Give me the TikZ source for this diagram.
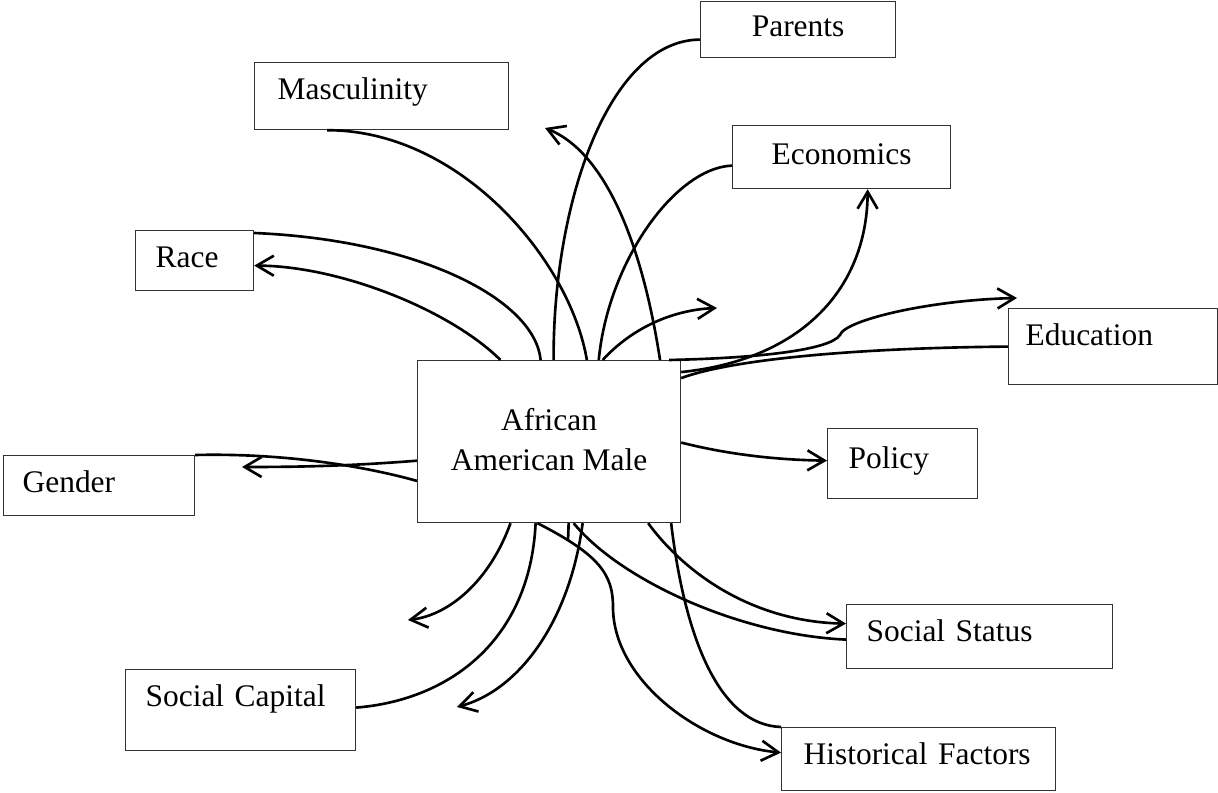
\documentclass[tikz,border=0pt]{standalone}
\usepackage{fontspec}
\setmainfont{Liberation Serif}
\usetikzlibrary{arrows.meta,calc}

\begin{document}
\begin{tikzpicture}[x=0.02cm, y=-0.02cm, every node/.style={font=\fontsize{17.9}{22.8}\selectfont},
     box/.style={draw=black!80, line width=0.7pt, anchor=north west, inner ysep=0pt, align=left, text height=0.42cm, text depth=0.14cm},
     link/.style={line width=1.5pt},
     arrowlink/.style={link, -{Straight Barb[length=3.4mm,width=4mm]}}]

   \useasboundingbox (0,0) rectangle (1218,793);

   \node[box, minimum width=3.9cm, minimum height=1.12cm] (parents) at (700,1) {Parents};
   \node[box, text width=4.16cm, inner xsep=0.46cm, minimum height=1.34cm, text depth=0.3cm] (masc) at (254,62) {Masculinity};
   \node[box, minimum width=4.36cm, minimum height=1.26cm] (econ) at (732,125) {Economics};
   \node[box, text width=1.56cm, inner xsep=0.4cm, minimum height=1.2cm] (race) at (135,230) {Race};
   \node[box, text width=3.5cm, inner xsep=0.34cm, minimum height=1.52cm, text depth=0.46cm] (educ) at (1008,308) {Education};
   \node[draw=black!80, line width=0.7pt, anchor=north west, align=center, minimum width=5.26cm, minimum height=3.24cm, text depth=0.1cm] (aam) at (417,360) {African\\American Male};
   \node[box, text width=2.16cm, inner xsep=0.42cm, minimum height=1.4cm, text depth=0.22cm] (policy) at (827,428) {Policy};
   \node[box, text width=3.06cm, inner xsep=0.38cm, minimum height=1.2cm] (gender) at (3,455) {Gender};
   \node[box, text width=4.52cm, inner xsep=0.4cm, minimum height=1.28cm, text depth=0.22cm] (status) at (846,604) {Social Status};
   \node[box, text width=3.8cm, inner xsep=0.4cm, minimum height=1.62cm, text depth=0.58cm] (capital) at (125,669) {Social Capital};
   \node[box, text width=4.6cm, inner xsep=0.44cm, minimum height=1.26cm, text depth=0.22cm] (hist) at (781,727) {Historical Factors};

   \coordinate (upleft) at (545,128);
   \coordinate (upright) at (717,308);
   \coordinate (toright) at (1017,298);
   \coordinate (toleft) at (242,467);
   \coordinate (downleft) at (408,620);
   \coordinate (lowleft) at (457,707);
   \coordinate (stub) at (568,541);

   \draw[arrowlink] ($(aam.north west)!0.316!(aam.north east)$) .. controls (450,310) and (340,266) .. ([yshift=-0.1cm]race.east);
   \draw[link] ([yshift=-0.06cm]race.north east) .. controls (420,240) and (535,300) .. ($(aam.north west)!0.468!(aam.north east)$);
   \draw[link] ($(masc.south west)!0.287!(masc.south east)$) .. controls (460,130) and (570,260) .. ($(aam.north west)!0.643!(aam.north east)$);
   \draw[link] ([yshift=-0.2cm]parents.west) .. controls (610,40) and (553,200) .. ($(aam.north west)!0.517!(aam.north east)$);
   \draw[arrowlink] ($(aam.north west)!0.92!(aam.north east)$) .. controls (640,230) and (600,150) .. (upleft);
   \draw[link] ([yshift=-0.17cm]econ.west) .. controls (675,168) and (608,262) .. ($(aam.north west)!0.688!(aam.north east)$);
   \draw[arrowlink] ($(aam.north west)!0.703!(aam.north east)$) .. controls (630,330) and (670,310) .. (upright);
   \draw[arrowlink] ($(aam.north east)!0.074!(aam.south east)$) .. controls (800,360) and (867,290) .. ($(econ.south west)!0.619!(econ.south east)$);
   \draw[arrowlink] ($(aam.north west)!0.954!(aam.north east)$) .. controls (760,358) and (830,350) .. (840,335) .. controls (845,320) and (930,300) .. (toright);
   \draw[link] (educ.west) .. controls (850,348) and (730,360) .. ($(aam.north east)!0.111!(aam.south east)$);
   \draw[arrowlink] ($(aam.north east)!0.506!(aam.south east)$) .. controls (730,455) and (780,460) .. ([yshift=0.06cm]policy.west);
   \draw[arrowlink] ($(aam.north west)!0.617!(aam.south west)$) .. controls (350,466) and (300,467) .. (toleft);
   \draw[link] (gender.north east) .. controls (280,453) and (360,465) .. ($(aam.north west)!0.741!(aam.south west)$);

   \draw[arrowlink] ($(aam.south west)!0.354!(aam.south east)$) .. controls (490,580) and (450,615) .. (downleft);
   \draw[link] ($(aam.south west)!0.449!(aam.south east)$) .. controls (530,640) and (450,700) .. ([yshift=0.05cm]capital.east);
   \draw[arrowlink] ($(aam.south west)!0.456!(aam.south east)$) .. controls (600,555) and (613,575) .. (613,607) .. controls (613,680) and (700,745) .. ([yshift=0.13cm]hist.west);
   \draw[link] ($(aam.south west)!0.574!(aam.south east)$) -- (stub);
   \draw[arrowlink] ($(aam.south west)!0.627!(aam.south east)$) .. controls (570,620) and (520,690) .. (lowleft);
   \draw[link] ([yshift=-0.06cm]status.west) .. controls (740,635) and (620,580) .. ($(aam.south west)!0.593!(aam.south east)$);
   \draw[arrowlink] ($(aam.south west)!0.875!(aam.south east)$) .. controls (690,580) and (760,622) .. ([yshift=0.26cm]status.west);
   \draw[link] ($(aam.south west)!0.962!(aam.south east)$) .. controls (685,640) and (720,725) .. (hist.north west);
  \end{tikzpicture}
\end{document}
